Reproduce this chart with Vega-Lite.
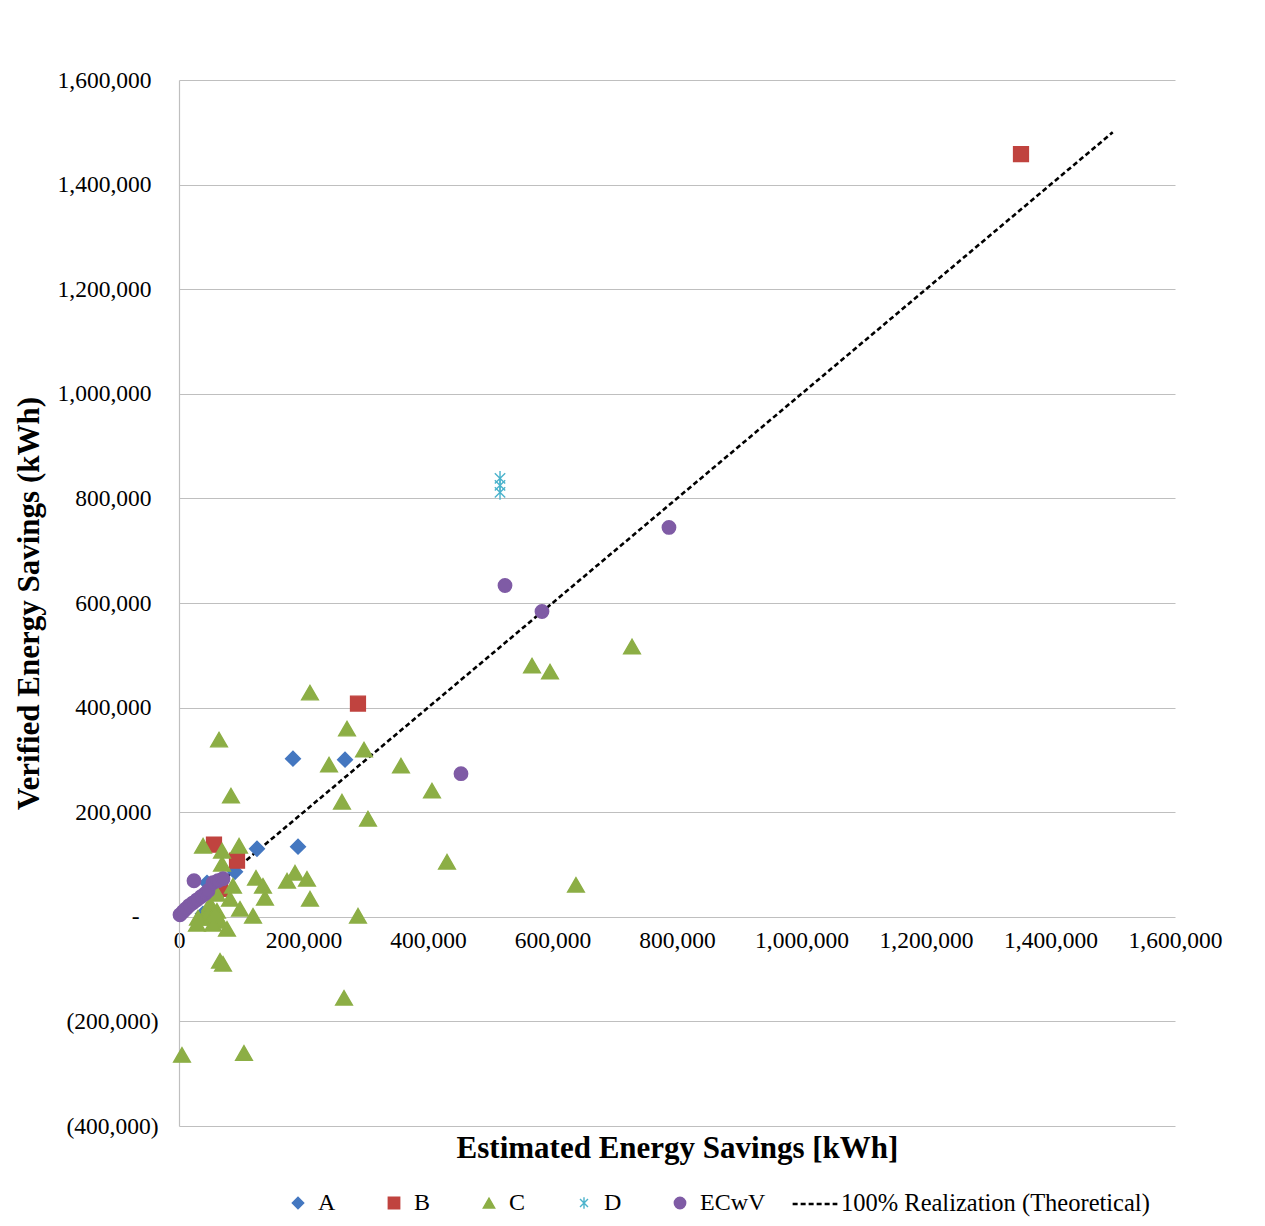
{
  "$schema": "https://vega.github.io/schema/vega-lite/v6.json",
  "autosize": "none",
  "width": 996,
  "height": 1046,
  "padding": {"left": 179, "top": 80, "right": 90, "bottom": 100},
  "background": "white",
  "config": {
    "font": "Liberation Serif",
    "view": {"stroke": null},
    "axis": {"labelFont": "Liberation Serif", "titleFont": "Liberation Serif", "labelColor": "#000", "titleColor": "#000"},
    "legend": {"labelFont": "Liberation Serif", "labelColor": "#000", "labelLimit": 600}
  },
  "datasets": {
    "pts": [
      {"s": "A", "x": 183100, "y": 302400},
      {"s": "A", "x": 266700, "y": 300500},
      {"s": "A", "x": 125300, "y": 130100},
      {"s": "A", "x": 191200, "y": 134000},
      {"s": "A", "x": 90000, "y": 86100},
      {"s": "A", "x": 45000, "y": 65000},
      {"s": "A", "x": 38500, "y": 5700},
      {"s": "B", "x": 1352600, "y": 1458400},
      {"s": "B", "x": 287500, "y": 407700},
      {"s": "B", "x": 56200, "y": 137800},
      {"s": "B", "x": 93200, "y": 107200},
      {"s": "B", "x": 65900, "y": 53600},
      {"s": "C", "x": 727700, "y": 516800},
      {"s": "C", "x": 567100, "y": 480400},
      {"s": "C", "x": 596000, "y": 468900},
      {"s": "C", "x": 210400, "y": 428700},
      {"s": "C", "x": 269900, "y": 359800},
      {"s": "C", "x": 64300, "y": 338800},
      {"s": "C", "x": 297200, "y": 319600},
      {"s": "C", "x": 241000, "y": 290900},
      {"s": "C", "x": 356600, "y": 289000},
      {"s": "C", "x": 406400, "y": 241200},
      {"s": "C", "x": 83500, "y": 231600},
      {"s": "C", "x": 261800, "y": 220100},
      {"s": "C", "x": 303600, "y": 187600},
      {"s": "C", "x": 430500, "y": 105300},
      {"s": "C", "x": 637700, "y": 61200},
      {"s": "C", "x": 287500, "y": 2000},
      {"s": "C", "x": 265100, "y": -155000},
      {"s": "C", "x": 104400, "y": -260300},
      {"s": "C", "x": 4800, "y": -264100},
      {"s": "C", "x": 65900, "y": -84200},
      {"s": "C", "x": 70700, "y": -90000},
      {"s": "C", "x": 38600, "y": 135900},
      {"s": "C", "x": 69100, "y": 126300},
      {"s": "C", "x": 96400, "y": 135900},
      {"s": "C", "x": 69100, "y": 101400},
      {"s": "C", "x": 86700, "y": 59300},
      {"s": "C", "x": 81900, "y": 34500},
      {"s": "C", "x": 98000, "y": 15300},
      {"s": "C", "x": 61000, "y": 44000},
      {"s": "C", "x": 49800, "y": 24900},
      {"s": "C", "x": 61000, "y": 11500},
      {"s": "C", "x": 38600, "y": -1900},
      {"s": "C", "x": 28900, "y": -13400},
      {"s": "C", "x": 65900, "y": -7700},
      {"s": "C", "x": 54600, "y": -13400},
      {"s": "C", "x": 77100, "y": -23000},
      {"s": "C", "x": 46600, "y": 5700},
      {"s": "C", "x": 30500, "y": -1900},
      {"s": "C", "x": 57800, "y": 7700},
      {"s": "C", "x": 123700, "y": 74600},
      {"s": "C", "x": 134900, "y": 59300},
      {"s": "C", "x": 138100, "y": 36400},
      {"s": "C", "x": 173500, "y": 68900},
      {"s": "C", "x": 186300, "y": 84200},
      {"s": "C", "x": 205600, "y": 72700},
      {"s": "C", "x": 210400, "y": 34500},
      {"s": "C", "x": 118900, "y": 1900},
      {"s": "D", "x": 515700, "y": 838300},
      {"s": "D", "x": 515700, "y": 824900},
      {"s": "D", "x": 515700, "y": 811500},
      {"s": "ECwV", "x": 787100, "y": 744500},
      {"s": "ECwV", "x": 523700, "y": 633500},
      {"s": "ECwV", "x": 583100, "y": 583700},
      {"s": "ECwV", "x": 453000, "y": 273700},
      {"s": "ECwV", "x": 24100, "y": 68900},
      {"s": "ECwV", "x": 1600, "y": 3800},
      {"s": "ECwV", "x": 6400, "y": 9600},
      {"s": "ECwV", "x": 11200, "y": 15300},
      {"s": "ECwV", "x": 16100, "y": 21100},
      {"s": "ECwV", "x": 22500, "y": 26800},
      {"s": "ECwV", "x": 28900, "y": 32500},
      {"s": "ECwV", "x": 35300, "y": 38300},
      {"s": "ECwV", "x": 41800, "y": 44000},
      {"s": "ECwV", "x": 46600, "y": 49800},
      {"s": "ECwV", "x": 54600, "y": 65100},
      {"s": "ECwV", "x": 62600, "y": 68900},
      {"s": "ECwV", "x": 70700, "y": 72700}
    ],
    "line": [
      {"k": "100% Realization (Theoretical)", "x": 0, "y": 0},
      {"k": "100% Realization (Theoretical)", "x": 1500000, "y": 1500000}
    ]
  },
  "layer": [
    {
      "data": {"name": "line"},
      "mark": {"type": "line", "color": "#000", "strokeWidth": 2.6},
      "encoding": {
        "x": {
          "field": "x", "type": "quantitative",
          "scale": {"domain": [0, 1600000], "nice": false, "zero": false},
          "axis": {
            "values": [0, 200000, 400000, 600000, 800000, 1000000, 1200000, 1400000, 1600000],
            "labelExpr": "format(datum.value, ',')",
            "labelOverlap": false, "labelFlush": false,
            "grid": false, "ticks": false, "domain": false,
            "offset": -210,
            "labelFontSize": 23.5, "labelPadding": 12,
            "title": "Estimated Energy Savings [kWh]",
            "titleFontSize": 31, "titleFontWeight": "bold",
            "titleY": 232, "titleBaseline": "middle"
          }
        },
        "y": {
          "field": "y", "type": "quantitative",
          "scale": {"domain": [-400000, 1600000], "nice": false, "zero": false},
          "axis": {
            "values": [-400000, -200000, 0, 200000, 400000, 600000, 800000, 1000000, 1200000, 1400000, 1600000],
            "labelExpr": "datum.value == 0 ? '-' : (datum.value < 0 ? '(' + format(-datum.value, ',') + ')' : format(datum.value, ','))",
            "labelOverlap": false, "labelFlush": false,
            "grid": true, "gridColor": "#bfbfbf", "gridWidth": 1.2,
            "ticks": false, "domain": true, "domainColor": "#bfbfbf", "domainWidth": 1.2,
            "labelFontSize": 23.5,
            "labelPadding": {"condition": [{"test": "datum.value == 0", "value": 40}, {"test": "datum.value > 0", "value": 28}], "value": 21},
            "title": "Verified Energy Savings (kWh)",
            "titleFontSize": 31, "titleFontWeight": "bold",
            "titleX": -150, "titleY": 523, "titleBaseline": "middle", "titleAngle": -90
          }
        },
        "strokeDash": {
          "field": "k", "type": "nominal",
          "scale": {"range": [[5, 3]]},
          "legend": {
            "title": null, "orient": "none", "legendX": 612, "legendY": 1100,
            "labelFontSize": 24.5, "symbolSize": 2000,
            "symbolStrokeWidth": 2.4, "symbolStrokeColor": "#000", "labelOffset": 2
          }
        }
      }
    },
    {
      "data": {"name": "pts"},
      "transform": [{"filter": "datum.s == 'A' || datum.s == 'B' || datum.s == 'D'"}],
      "mark": {"type": "point", "filled": true, "opacity": 1, "strokeWidth": 1.4, "size": 220},
      "encoding": {
        "x": {"field": "x", "type": "quantitative"},
        "y": {"field": "y", "type": "quantitative"},
        "fill": {
          "field": "s", "type": "nominal",
          "scale": {"domain": ["A", "B", "C", "D", "ECwV"], "range": ["#4477c0", "#c0433f", "#8cae45", "#4bb3cc", "#7f5ba5"]},
          "legend": {
            "title": null, "orient": "none", "legendX": 107, "legendY": 1111,
            "direction": "horizontal", "labelFontSize": 24,
            "symbolSize": 130, "columnPadding": 46, "labelOffset": 8, "symbolStrokeWidth": 1.4
          }
        },
        "stroke": {
          "field": "s", "type": "nominal",
          "scale": {"domain": ["A", "B", "C", "D", "ECwV"], "range": ["#4477c0", "#c0433f", "#8cae45", "#4bb3cc", "#7f5ba5"]},
          "legend": {
            "title": null, "orient": "none", "legendX": 107, "legendY": 1111,
            "direction": "horizontal", "labelFontSize": 24,
            "symbolSize": 130, "columnPadding": 46, "labelOffset": 8, "symbolStrokeWidth": 1.4
          }
        },
        "shape": {
          "field": "s", "type": "nominal",
          "scale": {"domain": ["A", "B", "C", "D", "ECwV"], "range": ["diamond", "square", "triangle-up", "M-0.7,-0.7L0.7,0.7M-0.7,0.7L0.7,-0.7M0,-1L0,1", "circle"]},
          "legend": {
            "title": null, "orient": "none", "legendX": 107, "legendY": 1111,
            "direction": "horizontal", "labelFontSize": 24,
            "symbolSize": 130, "columnPadding": 46, "labelOffset": 8, "symbolStrokeWidth": 1.4
          }
        }
      }
    },
    {
      "data": {"name": "pts"},
      "transform": [{"filter": "datum.s == 'C'"}],
      "mark": {"type": "point", "filled": true, "opacity": 1, "strokeWidth": 1.4, "size": 280},
      "encoding": {
        "x": {"field": "x", "type": "quantitative"},
        "y": {"field": "y", "type": "quantitative"},
        "fill": {"field": "s", "type": "nominal"},
        "stroke": {"field": "s", "type": "nominal"},
        "shape": {"field": "s", "type": "nominal"}
      }
    },
    {
      "data": {"name": "pts"},
      "transform": [{"filter": "datum.s == 'ECwV'"}],
      "mark": {"type": "point", "filled": true, "opacity": 1, "strokeWidth": 1.4, "size": 180},
      "encoding": {
        "x": {"field": "x", "type": "quantitative"},
        "y": {"field": "y", "type": "quantitative"},
        "fill": {"field": "s", "type": "nominal"},
        "stroke": {"field": "s", "type": "nominal"},
        "shape": {"field": "s", "type": "nominal"}
      }
    }
  ]
}
